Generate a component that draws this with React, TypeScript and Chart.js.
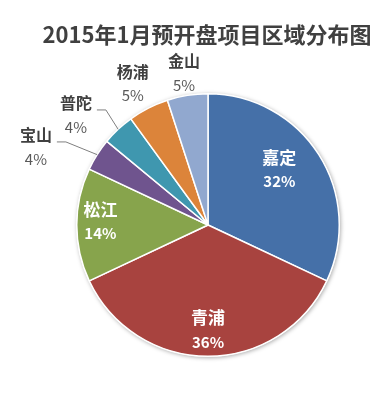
import React, { useEffect, useRef } from 'react';
import { Chart, registerables } from 'chart.js';

Chart.register(...registerables);

const chartTitle = '2015年1月预开盘项目区域分布图';
const categories = ['嘉定', '青浦', '松江', '宝山', '普陀', '杨浦', '金山'];
const shares = [32, 36, 14, 4, 4, 5, 5];
const sliceColors = ['#4570A8', '#A8433F', '#87A44C', '#6F548E', '#3F97AF', '#DC843A', '#91A8CF'];

// label placement: r = distance as a fraction of the radius, da = angle shift (deg, clockwise)
const placement = [
  { r: 0.69, da: -5.6, inside: true, leader: false },
  { r: 0.8, da: 0, inside: true, leader: false },
  { r: 0.82, da: 2, inside: true, leader: false },
  { r: 1.44, da: -8, inside: false, leader: true },
  { r: 1.31, da: -7, inside: false, leader: true },
  { r: 1.22, da: -1, inside: false, leader: false },
  { r: 1.17, da: 0, inside: false, leader: false },
];

const FONT = '"Noto Sans CJK SC", "Noto Sans", sans-serif';

const sliceLabels = {
  id: 'sliceLabels',
  beforeDatasetsDraw(chart: any) {
    const meta = chart.getDatasetMeta(0);
    if (!meta.data.length) return;
    const { x, y, outerRadius } = meta.data[0].getProps(['x', 'y', 'outerRadius'], true);
    const ctx = chart.ctx;
    ctx.save();
    ctx.shadowColor = 'rgba(0,0,0,0.35)';
    ctx.shadowBlur = 4;
    ctx.shadowOffsetX = 1;
    ctx.shadowOffsetY = 1;
    ctx.beginPath();
    ctx.arc(x, y, outerRadius + 0.5, 0, Math.PI * 2);
    ctx.fillStyle = '#ffffff';
    ctx.fill();
    ctx.restore();
  },
  afterDatasetsDraw(chart: any) {
    const ctx = chart.ctx;
    const meta = chart.getDatasetMeta(0);

    // title
    ctx.save();
    ctx.fillStyle = '#404040';
    ctx.font = `bold 22px ${FONT}`;
    ctx.textAlign = 'center';
    ctx.textBaseline = 'middle';
    ctx.fillText(chartTitle, 207, 35);
    ctx.restore();

    meta.data.forEach((arc: any, i: number) => {
      const { x, y, startAngle, endAngle, outerRadius } = arc.getProps(
        ['x', 'y', 'startAngle', 'endAngle', 'outerRadius'],
        true
      );
      const p = placement[i];
      const midRaw = (startAngle + endAngle) / 2;
      const mid = midRaw + (p.da * Math.PI) / 180;
      const cx = x + Math.cos(mid) * outerRadius * p.r;
      const cy = y + Math.sin(mid) * outerRadius * p.r;
      const nameY = cy - 12;
      const pctY = cy + 12;
      ctx.save();
      ctx.textAlign = 'center';
      ctx.textBaseline = 'middle';
      if (p.inside) {
        ctx.fillStyle = '#ffffff';
        ctx.font = `bold 17px ${FONT}`;
        ctx.fillText(categories[i], cx, nameY);
        ctx.font = `bold 15px ${FONT}`;
        ctx.fillText(shares[i] + '%', cx, pctY);
      } else {
        ctx.fillStyle = '#404040';
        ctx.font = `bold 16px ${FONT}`;
        ctx.fillText(categories[i], cx, nameY);
        const nameW = ctx.measureText(categories[i]).width;
        ctx.fillStyle = '#595959';
        ctx.font = `15px ${FONT}`;
        ctx.fillText(shares[i] + '%', cx, pctY);
        if (p.leader) {
          const sx = cx + nameW / 2 + 5;
          const sy = nameY + 7;
          const ex = x + Math.cos(midRaw) * outerRadius;
          const ey = y + Math.sin(midRaw) * outerRadius;
          ctx.strokeStyle = '#7f7f7f';
          ctx.lineWidth = 1;
          ctx.beginPath();
          ctx.moveTo(sx, sy);
          ctx.lineTo(sx + 9, sy);
          ctx.lineTo(ex, ey);
          ctx.stroke();
        }
      }
      ctx.restore();
    });
  },
};

export default function App() {
  const canvasRef = useRef<HTMLCanvasElement | null>(null);

  useEffect(() => {
    document.body.style.margin = '0';
    const canvas = canvasRef.current;
    if (!canvas) return;
    const chart = new Chart(canvas, {
      type: 'pie',
      data: {
        labels: categories,
        datasets: [
          {
            data: shares,
            backgroundColor: sliceColors,
            borderColor: '#ffffff',
            borderWidth: 1.5,
          },
        ],
      },
      options: {
        responsive: false,
        animation: false,
        devicePixelRatio: 1,
        layout: { padding: { left: 76, right: 50, top: 93, bottom: 43 } },
        plugins: {
          legend: { display: false },
          tooltip: { enabled: false },
          title: { display: false },
        },
      },
      plugins: [sliceLabels],
    });
    return () => chart.destroy();
  }, []);

  return (
    <div style={{ width: 390, height: 400, background: '#ffffff' }}>
      <canvas ref={canvasRef} width={390} height={400} />
    </div>
  );
}
